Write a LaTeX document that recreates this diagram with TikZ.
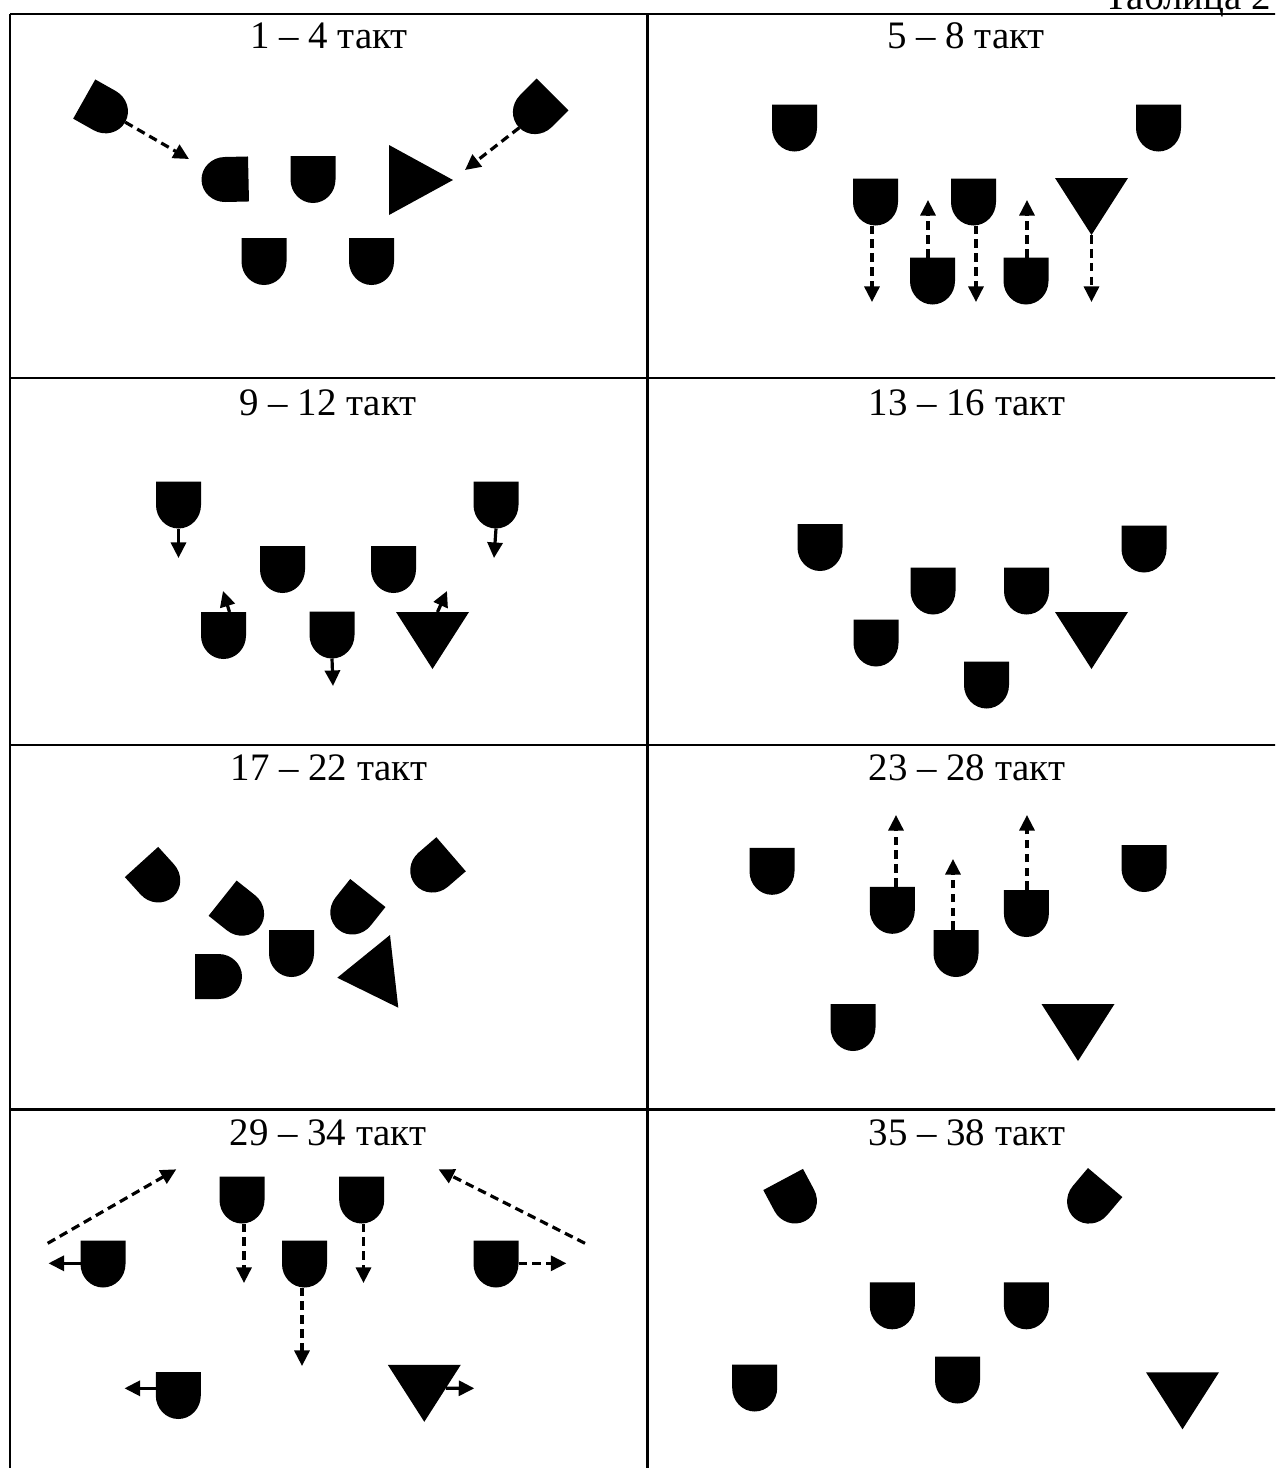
\documentclass[tikz,border=0pt]{standalone}
\usepackage{fontspec}
\setmainfont{Liberation Serif}
\usetikzlibrary{arrows.meta,calc}
\begin{document}
\begin{tikzpicture}[x=0.36pt,y=-0.36pt,
  tbl/.style={line width=0.75pt},
  ttl/.style={anchor=base,font=\fontsize{14pt}{16pt}\selectfont,inner sep=0pt},
  dar/.style={line width=1.15pt,dash pattern=on 3.1pt off 1.9pt,-{Triangle[length=5.6pt,width=5.4pt]}},
  sar/.style={line width=1.15pt,-{Triangle[length=5.6pt,width=5.4pt]}},
  ushape/.pic={
    \fill (-22.5,-23.5) -- (22.5,-23.5) -- (22.5,0)
      arc[start angle=0,end angle=180,x radius=22.5,y radius=23.5] -- cycle;
    \coordinate (-top) at (0,-23.5);
    \coordinate (-bot) at (0,23.5);
    \coordinate (-l) at (-22.5,0);
    \coordinate (-r) at (22.5,0);
  },
  tri/.pic={
    \fill (-36.5,-28.5) -- (36.5,-28.5) -- (0,28.5) -- cycle;
    \coordinate (-top) at (0,-28.5);
    \coordinate (-ne) at (36.5,-28.5);
    \coordinate (-tip) at (0,28.5);
  }
]
\useasboundingbox (0,0) rectangle (1275,1468);
\clip (0,0) rectangle (1275,1468);

% table
\draw[tbl] (10,14) -- (1290,14);
\draw[tbl] (10,378) -- (1290,378);
\draw[tbl] (10,745) -- (1290,745);
\draw[tbl] (10,1109.5) -- (1290,1109.5);
\draw[tbl] (10,14) -- (10,1480);
\draw[tbl] (647.5,14) -- (647.5,1480);

\node[ttl,anchor=base east] (tab) at (1271,9) {Таблица 2};

% titles
\node[ttl] (h1) at (329,48) {1 – 4 такт};
\node[ttl] (h2) at (966,48) {5 – 8 такт};
\node[ttl] (h3) at (328,415) {9 – 12 такт};
\node[ttl] (h4) at (967,415) {13 – 16 такт};
\node[ttl] (h5) at (329,780) {17 – 22 такт};
\node[ttl] (h6) at (967,780) {23 – 28 такт};
\node[ttl] (h7) at (328,1145) {29 – 34 такт};
\node[ttl] (h8) at (967,1145) {35 – 38 такт};

% ---- panel 1
\pic[rotate=60.6] (a1) at (104.7,110.6) {ushape};
\pic[rotate=-45] (a2) at (535.9,111.1) {ushape};
\pic[rotate=-88.7] (a3) at (225,179.5) {ushape};
\pic (a4) at (313,179.5) {ushape};
\pic (a5) at (264,261.5) {ushape};
\pic (a6) at (371.5,261.5) {ushape};
\fill (389,145) -- (389,215) -- (453,180) -- cycle;
\coordinate (e1a) at (189,159);
\coordinate (e1b) at (465,170);
\draw[dar] (a1-bot) -- (e1a);
\draw[dar] (a2-bot) -- (e1b);

% ---- panel 2
\pic (b1) at (794.5,128) {ushape};
\pic (b2) at (1158.5,128) {ushape};
\pic (b3) at (875.5,202) {ushape};
\pic (b4) at (973.5,202) {ushape};
\pic (b5) at (932.5,281) {ushape};
\pic (b6) at (1026,281) {ushape};
\pic (bt) at (1091.5,206.5) {tri};
\coordinate (e2a) at (872,302);
\coordinate (e2b) at (928,200);
\coordinate (e2c) at (976,302);
\coordinate (e2d) at (1027,200);
\coordinate (e2e) at (1091.5,302);
\draw[dar] (e2a |- b3-bot) -- (e2a);
\draw[dar] (e2b |- b5-top) -- (e2b);
\draw[dar] (e2c |- b4-bot) -- (e2c);
\draw[dar] (e2d |- b6-top) -- (e2d);
\draw[dar] (bt-tip) -- (e2e);

% ---- panel 3
\pic (c1) at (178.5,505) {ushape};
\pic (c2) at (496,505) {ushape};
\pic (c3) at (282.5,569.5) {ushape};
\pic (c4) at (393.5,569.5) {ushape};
\pic (c5) at (223.5,635.5) {ushape};
\pic (c6) at (332,635) {ushape};
\pic (ct) at (432.5,640.5) {tri};
\coordinate (e3a) at (178.5,558);
\coordinate (e3b) at (494,558);
\coordinate (e3c) at (223,591);
\coordinate (e3d) at (333,686);
\coordinate (e3e) at (447,591);
\draw[sar] (c1-bot) -- (e3a);
\draw[sar] (c2-bot) -- (e3b);
\draw[sar] ($(c5-top)+(6,0)$) -- (e3c);
\draw[sar] (c6-bot) -- (e3d);
\draw[sar] ($(ct-top)+(5,0)$) -- (e3e);

% ---- panel 4
\pic (d1) at (820,547.5) {ushape};
\pic (d2) at (1144,549) {ushape};
\pic (d3) at (933,591) {ushape};
\pic (d4) at (1026.5,591) {ushape};
\pic (d5) at (876,643) {ushape};
\pic (d6) at (986.5,685) {ushape};
\pic (dt) at (1091.5,640.5) {tri};

% ---- panel 5
\pic[rotate=42.2] (f1) at (157.3,879.4) {ushape};
\pic[rotate=51.5] (f2) at (241,912.8) {ushape};
\pic[rotate=-38.5] (f3) at (353.2,911.4) {ushape};
\pic[rotate=-49.2] (f4) at (433.3,869.6) {ushape};
\pic (f5) at (291.5,953.5) {ushape};
\pic[rotate=90] (f6) at (218.5,976.5) {ushape};
\fill (390,935) -- (337.3,977.7) -- (398.3,1007.7) -- cycle;

% ---- panel 6
\pic (g1) at (772,871.3) {ushape};
\pic (g2) at (1144,868.5) {ushape};
\pic (g3) at (892.3,910.3) {ushape};
\pic (g4) at (1026.4,913.5) {ushape};
\pic (g5) at (956,953.5) {ushape};
\pic (g6) at (853,1027.5) {ushape};
\pic (gt) at (1078,1032.5) {tri};
\coordinate (e6a) at (896,815);
\coordinate (e6b) at (1027,815);
\coordinate (e6c) at (953,859);
\draw[dar] (e6a |- g3-top) -- (e6a);
\draw[dar] (e6b |- g4-top) -- (e6b);
\draw[dar] (e6c |- g5-top) -- (e6c);

% ---- panel 7
\pic (k1) at (242,1200) {ushape};
\pic (k2) at (361.7,1200) {ushape};
\pic (k3) at (304.5,1264) {ushape};
\pic (k4) at (103,1264) {ushape};
\pic (k5) at (496,1264) {ushape};
\pic (k6) at (178.3,1395.5) {ushape};
\pic (kt) at (424.3,1393.3) {tri};
\coordinate (e7a) at (244,1283);
\coordinate (e7b) at (363.5,1283);
\coordinate (e7c) at (302,1366);
\coordinate (e7d) at (48.5,1263.3);
\coordinate (e7e) at (566.4,1263.3);
\coordinate (e7f) at (124.5,1388.3);
\coordinate (e7g) at (474.3,1388.3);
\coordinate (s7h) at (47.7,1243.3);
\coordinate (e7h) at (176.3,1169.3);
\coordinate (s7i) at (585,1243.3);
\coordinate (e7i) at (438.6,1169.3);
\draw[dar] (e7a |- k1-bot) -- (e7a);
\draw[dar] (e7b |- k2-bot) -- (e7b);
\draw[dar] (e7c |- k3-bot) -- (e7c);
\draw[sar] (k4-l |- e7d) -- (e7d);
\draw[dar] (k5-r |- e7e) -- (e7e);
\draw[sar] (k6-l |- e7f) -- (e7f);
\draw[sar] ($(kt-ne)!0.41!(kt-tip)$) -- (e7g);
\draw[dar] (s7h) -- (e7h);
\draw[dar] (s7i) -- (e7i);

% ---- panel 8
\pic[rotate=28.1] (m1) at (794.2,1200.2) {ushape};
\pic[rotate=-40.2] (m2) at (1090,1200.5) {ushape};
\pic (m3) at (892.3,1305.8) {ushape};
\pic (m4) at (1026.4,1305.8) {ushape};
\pic (m5) at (754.7,1388) {ushape};
\pic (m6) at (957.5,1380) {ushape};
\pic (mt) at (1182.5,1400.8) {tri};
\end{tikzpicture}
\end{document}
